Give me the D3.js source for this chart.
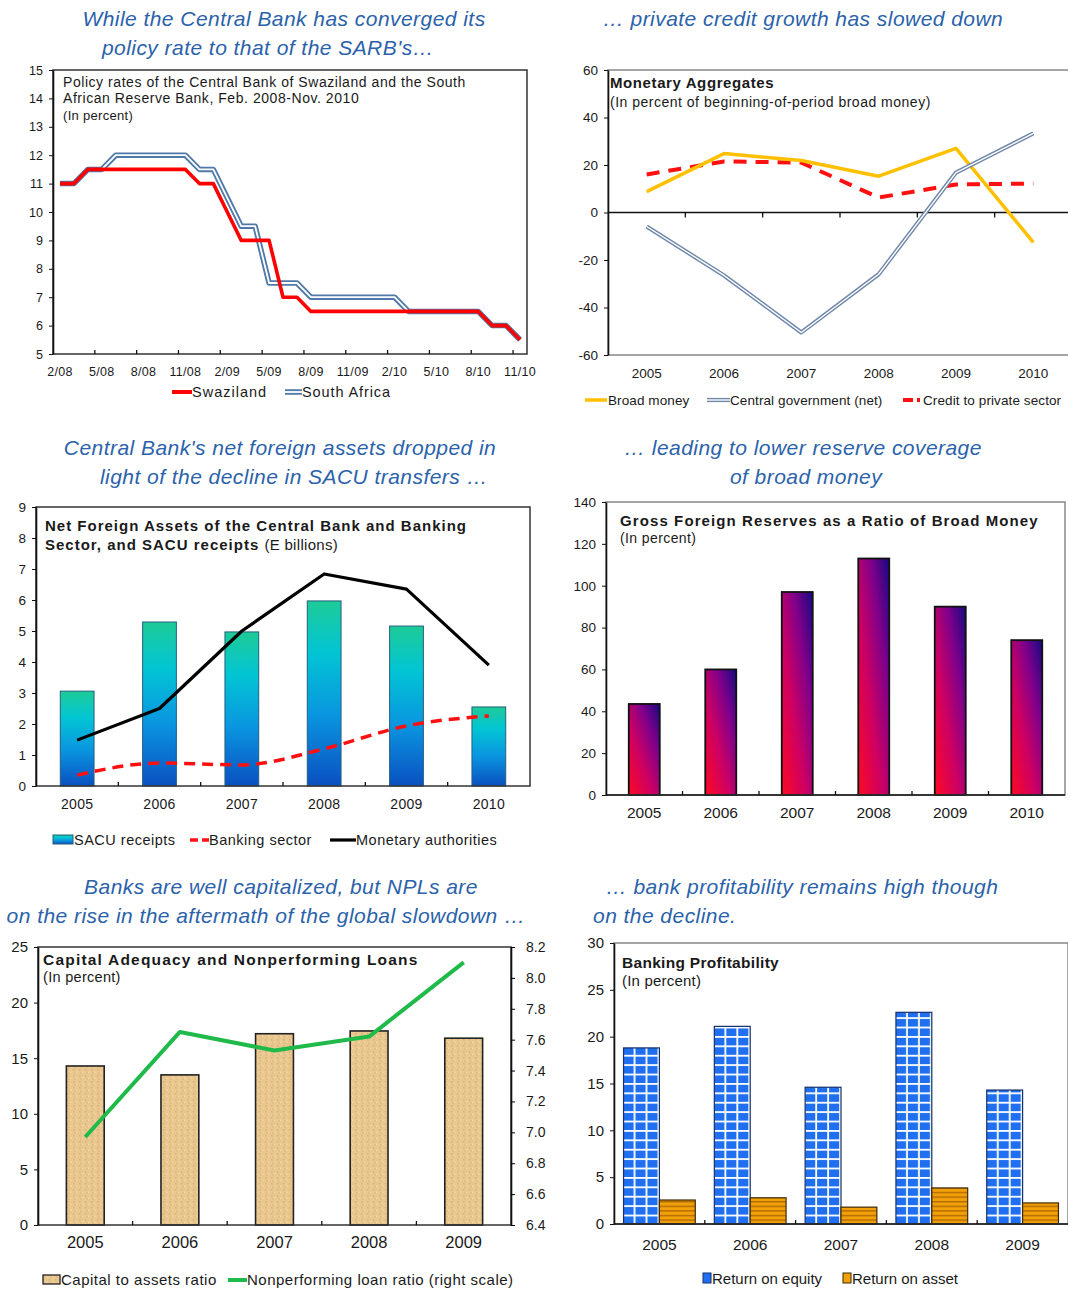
<!doctype html>
<html>
<head>
<meta charset="utf-8">
<script src="https://cdn.jsdelivr.net/npm/d3@7"></script>
<style>
  body { margin:0; background:#fff; }
  svg { display:block; font-family:"Liberation Sans", Arial, sans-serif; }
</style>
</head>
<body>
<script>
// ---- data ----
// policy rates, monthly Feb 2008 - Nov 2010
var rateTicks = ["2/08","5/08","8/08","11/08","2/09","5/09","8/09","11/09","2/10","5/10","8/10","11/10"];
var swaziland = [11,11,11.5,11.5,11.5,11.5,11.5,11.5,11.5,11.5,11,
                 11,10,9,9,9,7,7,6.5,6.5,6.5,6.5,6.5,
                 6.5,6.5,6.5,6.5,6.5,6.5,6.5,6.5,6,6,5.5];
var southAfrica = [11,11,11.5,11.5,12,12,12,12,12,12,11.5,
                   11.5,10.5,9.5,9.5,7.5,7.5,7.5,7,7,7,7,7,
                   7,7,6.5,6.5,6.5,6.5,6.5,6.5,6,6,5.5];

var years6 = ["2005","2006","2007","2008","2009","2010"];
var broadMoney = [8.8,24.8,21.9,15.3,27,-12.6];
var centralGov = [-5.9,-26.5,-50.5,-26,16.8,33.3];
var creditPrivate = [16,21.5,21,6.3,11.8,12.2];

var sacuReceipts = [3.06,5.29,4.97,5.97,5.16,2.55];
var bankingSector = [0.35,0.74,0.68,1.2,1.94,2.26];
var monetaryAuth = [1.48,2.5,5.0,6.84,6.35,3.9];

var reserveRatio = [43.5,60,97,113,90,74];

var years5 = ["2005","2006","2007","2008","2009"];
var capitalAssets = [14.3,13.5,17.2,17.45,16.8];
var nplRatio = [6.97,7.65,7.53,7.62,8.1];

var roe = [18.8,21.1,14.6,22.6,14.3];
var roa = [2.56,2.8,1.8,3.85,2.25];

// ---- setup ----
var W = 1068, H = 1291;
var FONT = "Liberation Sans, Arial, sans-serif";
var INK = "#1a1a1a";
var svg = d3.select("body").append("svg").attr("width",W).attr("height",H);
var defs = svg.append("defs");

function grad(id, x1, y1, x2, y2, stops) {
    var g = defs.append("linearGradient").attr("id",id)
        .attr("x1",x1).attr("y1",y1).attr("x2",x2).attr("y2",y2);
    stops.forEach(function(s) { g.append("stop").attr("offset",s[0]).attr("stop-color",s[1]); });
}
grad("gSacu",0,0,0,1,[["0%","#1dcb97"],["28%","#02c5d4"],["62%","#0a95e0"],["100%","#0a50c0"]]);
grad("gRes",0,1,1,0,[["0%","#ff0a22"],["40%","#cc0064"],["70%","#80008a"],["100%","#160a82"]]);

// tan speckle for capital bars
var pt = defs.append("pattern").attr("id","pTan").attr("patternUnits","userSpaceOnUse")
    .attr("width",6).attr("height",6);
pt.append("rect").attr("width",6).attr("height",6).attr("fill","#e9c78f");
pt.append("rect").attr("x",1).attr("y",1).attr("width",1.5).attr("height",1.5).attr("fill","#d8b07a");
pt.append("rect").attr("x",4).attr("y",3.5).attr("width",1.5).attr("height",1.5).attr("fill","#f3d8aa");
pt.append("rect").attr("x",2.5).attr("y",4.5).attr("width",1).attr("height",1).attr("fill","#d4aa72");

function txt(g, x, y, s, size, o) {
    o = o || {};
    var t = g.append("text").attr("x",x).attr("y",y).attr("font-size",size)
        .attr("fill",o.fill || INK).text(s);
    if (o.anchor) t.attr("text-anchor",o.anchor);
    if (o.weight) t.attr("font-weight",o.weight);
    if (o.ls) t.attr("letter-spacing",o.ls);
    if (o.italic) t.attr("font-style","italic");
    return t;
}
function headline(lines) {
    lines.forEach(function(l) {
        txt(svg,l[0],l[1],l[2],21,{anchor:l[3] || "middle",italic:true,fill:"#2b62aa",ls:0.45});
    });
}
function frame(g, b, col) {
    g.append("rect").attr("x",b.l).attr("y",b.t).attr("width",b.r-b.l).attr("height",b.b-b.t)
        .attr("fill","none").attr("stroke",col || "#333").attr("stroke-width",1.5);
}
function leftAxis(g, y, x0, ticks, size, fmt) {
    var a = g.append("g").attr("transform","translate("+x0+",0)")
        .call(d3.axisLeft(y).tickValues(ticks).tickSize(4).tickSizeOuter(0).tickPadding(6)
            .tickFormat(fmt || function(d) { return String(d); }));
    a.attr("font-size",size).attr("font-family",FONT);
    a.select(".domain").attr("stroke","#111").attr("stroke-width",1.6);
    a.selectAll(".tick line").attr("stroke","#111");
    a.selectAll(".tick text").attr("fill",INK);
    return a;
}
function xLabels(g, cats, cx, y, size, ls) {
    g.selectAll(null).data(cats).enter().append("text")
        .attr("x",function(d) { return cx(d); }).attr("y",y)
        .attr("text-anchor","middle").attr("font-size",size).attr("fill",INK)
        .attr("letter-spacing",ls || 0)
        .text(function(d) { return d; });
}
function catTicks(g, xs, y0, len) {
    g.selectAll(null).data(xs).enter().append("line")
        .attr("x1",function(d) { return d; }).attr("x2",function(d) { return d; })
        .attr("y1",y0).attr("y2",y0+len).attr("stroke","#111").attr("stroke-width",1.3);
}
function doubleLine(g, d, col, w) {
    g.append("path").attr("d",d).attr("fill","none").attr("stroke",col).attr("stroke-width",w)
        .attr("stroke-linejoin","round");
    g.append("path").attr("d",d).attr("fill","none").attr("stroke","#fff").attr("stroke-width",w*0.33)
        .attr("stroke-linejoin","round");
}

// ================= panel 1: policy rates =================
(function() {
    var g = svg.append("g");
    var b = {l:53, r:527, t:70, b:354};
    headline([[284,26,"While the Central Bank has converged its"],[268,55,"policy rate to that of the SARB's…"]]);
    var x = d3.scalePoint().domain(d3.range(swaziland.length)).range([b.l,b.r]).padding(0.5);
    var y = d3.scaleLinear().domain([5,15]).range([b.b,b.t]);
    frame(g,b);
    leftAxis(g,y,b.l,d3.range(5,16),12.5);
    var step = x.step();
    catTicks(g,d3.range(1,12).map(function(k) { return b.l + 3*k*step; }),b.b,-4);
    g.selectAll(null).data(rateTicks).enter().append("text")
        .attr("x",function(d,i) { return x(i*3); }).attr("y",376)
        .attr("text-anchor","middle").attr("font-size",12.5).attr("fill",INK).attr("letter-spacing",0.3)
        .text(function(d) { return d; });
    var line = d3.line().x(function(d,i) { return x(i); }).y(function(d) { return y(d); });
    doubleLine(g,line(southAfrica),"#4f79a8",5.5);
    g.append("path").attr("d",line(swaziland)).attr("fill","none").attr("stroke","#ff0000")
        .attr("stroke-width",3.6).attr("stroke-linejoin","round");
    txt(g,63,87,"Policy rates of the Central Bank of Swaziland and the South",14,{ls:0.55});
    txt(g,63,103,"African Reserve Bank, Feb. 2008-Nov. 2010",14,{ls:0.55});
    txt(g,63,120,"(In percent)",13,{ls:0.3});
    // legend
    g.append("line").attr("x1",172).attr("x2",192).attr("y1",392).attr("y2",392)
        .attr("stroke","#ff0000").attr("stroke-width",4);
    txt(g,192,397,"Swaziland",14.5,{ls:1.0});
    doubleLine(g,"M285,392H302","#4f79a8",5.5);
    txt(g,302,397,"South Africa",14.5,{ls:0.9});
})();

// ================= panel 2: monetary aggregates =================
(function() {
    var g = svg.append("g");
    var b = {l:608, r:1072, t:70, b:355};
    headline([[803,26,"… private credit growth has slowed down"]]);
    var x = d3.scaleBand().domain(years6).range([b.l,b.r]);
    var cx = function(d) { return x(d) + x.bandwidth()/2; };
    var y = d3.scaleLinear().domain([-60,60]).range([b.b,b.t]);
    frame(g,b,"#888");
    leftAxis(g,y,b.l,d3.range(-60,61,20),13.5);
    g.append("line").attr("x1",b.l).attr("x2",b.r).attr("y1",y(0)).attr("y2",y(0))
        .attr("stroke","#111").attr("stroke-width",1.5);
    catTicks(g,years6.slice(1).map(function(d) { return x(d); }),y(0),5);
    xLabels(g,years6,cx,378,13.5);
    var line = d3.line().x(function(d,i) { return cx(years6[i]); }).y(function(d) { return y(d); });
    g.append("path").attr("d",line(creditPrivate)).attr("fill","none").attr("stroke","#ff1010")
        .attr("stroke-width",4).attr("stroke-dasharray","13,9");
    g.append("path").attr("d",line(broadMoney)).attr("fill","none").attr("stroke","#ffc000")
        .attr("stroke-width",3.5).attr("stroke-linejoin","round");
    doubleLine(g,line(centralGov),"#6f87a8",4.2);
    txt(g,610,88,"Monetary Aggregates",15,{weight:"bold",ls:0.6});
    txt(g,610,107,"(In percent of beginning-of-period broad money)",14,{ls:0.5});
    // legend
    g.append("line").attr("x1",585).attr("x2",607).attr("y1",400).attr("y2",400)
        .attr("stroke","#ffc000").attr("stroke-width",3.5);
    txt(g,608,405,"Broad money",13.5,{ls:0.1});
    doubleLine(g,"M707,400H730","#6f87a8",4.2);
    txt(g,730,405,"Central government (net)",13.5,{ls:0.1});
    g.append("line").attr("x1",903).attr("x2",920).attr("y1",400).attr("y2",400)
        .attr("stroke","#ff1010").attr("stroke-width",4).attr("stroke-dasharray","10,4");
    txt(g,923,405,"Credit to private sector",13.5,{ls:0.1});
})();

// ================= panel 3: net foreign assets =================
(function() {
    var g = svg.append("g");
    var b = {l:36, r:530, t:507, b:786};
    headline([[280,455,"Central Bank's net foreign assets dropped in"],[294,484,"light of the decline in SACU transfers …"]]);
    var x = d3.scaleBand().domain(years6).range([b.l,b.r]).paddingInner(0.59).paddingOuter(0.295);
    var cx = function(d) { return x(d) + x.bandwidth()/2; };
    var y = d3.scaleLinear().domain([0,9]).range([b.b,b.t]);
    g.selectAll(null).data(sacuReceipts).enter().append("rect")
        .attr("x",function(d,i) { return x(years6[i]); }).attr("width",x.bandwidth())
        .attr("y",function(d) { return y(d); }).attr("height",function(d) { return y(0) - y(d); })
        .attr("fill","url(#gSacu)").attr("stroke","#245f80").attr("stroke-width",1);
    frame(g,b);
    leftAxis(g,y,b.l,d3.range(0,10),13.5);
    var step = x.step();
    catTicks(g,d3.range(1,6).map(function(k) { return b.l + k*step; }),b.b,-4);
    xLabels(g,years6,cx,809,14,0.3);
    var line = d3.line().x(function(d,i) { return cx(years6[i]); }).y(function(d) { return y(d); });
    g.append("path").attr("d",line.curve(d3.curveMonotoneX)(bankingSector)).attr("fill","none")
        .attr("stroke","#ff1010").attr("stroke-width",3.5).attr("stroke-dasharray","11,7");
    g.append("path").attr("d",line.curve(d3.curveLinear)(monetaryAuth)).attr("fill","none")
        .attr("stroke","#000").attr("stroke-width",3.2).attr("stroke-linejoin","round");
    txt(g,45,531,"Net Foreign Assets of the Central Bank and Banking",15,{weight:"bold",ls:1.0});
    var t = txt(g,45,550,"Sector, and SACU receipts ",15,{weight:"bold",ls:1.0});
    t.append("tspan").attr("font-weight","normal").attr("letter-spacing",0.3).text("(E billions)");
    // legend
    g.append("rect").attr("x",53).attr("y",835).attr("width",20).attr("height",9)
        .attr("fill","url(#gSacu)").attr("stroke","#245f80");
    txt(g,74,845,"SACU receipts",14.5,{ls:0.5});
    g.append("line").attr("x1",190).attr("x2",209).attr("y1",840).attr("y2",840)
        .attr("stroke","#ff1010").attr("stroke-width",3.5).attr("stroke-dasharray","8,4");
    txt(g,209,845,"Banking sector",14.5,{ls:0.5});
    g.append("line").attr("x1",330).attr("x2",356).attr("y1",840).attr("y2",840)
        .attr("stroke","#000").attr("stroke-width",3.2);
    txt(g,356,845,"Monetary authorities",14.5,{ls:0.5});
})();

// ================= panel 4: reserves to broad money =================
(function() {
    var g = svg.append("g");
    var b = {l:606, r:1065, t:502, b:795};
    headline([[803,455,"… leading to lower reserve coverage"],[806,484,"of broad money"]]);
    var x = d3.scaleBand().domain(years6).range([b.l,b.r]).paddingInner(0.595).paddingOuter(0.2975);
    var cx = function(d) { return x(d) + x.bandwidth()/2; };
    var y = d3.scaleLinear().domain([0,140]).range([b.b,b.t]);
    g.selectAll(null).data(reserveRatio).enter().append("rect")
        .attr("x",function(d,i) { return x(years6[i]); }).attr("width",x.bandwidth())
        .attr("y",function(d) { return y(d); }).attr("height",function(d) { return y(0) - y(d); })
        .attr("fill","url(#gRes)").attr("stroke","#111").attr("stroke-width",1.8);
    frame(g,b,"#888");
    leftAxis(g,y,b.l,d3.range(0,141,20),13.5);
    g.append("line").attr("x1",b.l).attr("x2",b.r).attr("y1",b.b).attr("y2",b.b)
        .attr("stroke","#111").attr("stroke-width",1.6);
    var step = x.step();
    catTicks(g,d3.range(1,6).map(function(k) { return b.l + k*step; }),b.b,-4);
    xLabels(g,years6,cx,818,15.5);
    txt(g,620,526,"Gross Foreign Reserves as a Ratio of Broad Money",15,{weight:"bold",ls:1.1});
    txt(g,620,543,"(In percent)",14,{ls:0.4});
})();

// ================= panel 5: capital adequacy & NPL =================
(function() {
    var g = svg.append("g");
    var b = {l:38, r:511, t:947, b:1225};
    headline([[281,894,"Banks are well capitalized, but NPLs are"],[266,923,"on the rise in the aftermath of the global slowdown …"]]);
    var x = d3.scaleBand().domain(years5).range([b.l,b.r]).paddingInner(0.6).paddingOuter(0.3);
    var cx = function(d) { return x(d) + x.bandwidth()/2; };
    var y = d3.scaleLinear().domain([0,25]).range([b.b,b.t]);
    var y2 = d3.scaleLinear().domain([6.4,8.2]).range([b.b,b.t]);
    g.selectAll(null).data(capitalAssets).enter().append("rect")
        .attr("x",function(d,i) { return x(years5[i]); }).attr("width",x.bandwidth())
        .attr("y",function(d) { return y(d); }).attr("height",function(d) { return y(0) - y(d); })
        .attr("fill","url(#pTan)").attr("stroke","#222").attr("stroke-width",1.6);
    frame(g,b);
    leftAxis(g,y,b.l,d3.range(0,26,5),15);
    var r = g.append("g").attr("transform","translate("+b.r+",0)")
        .call(d3.axisRight(y2).tickValues(d3.range(10).map(function(i) { return 6.4 + i*0.2; }))
            .tickSize(4).tickSizeOuter(0).tickPadding(11).tickFormat(d3.format(".1f")));
    r.attr("font-size",14).attr("font-family",FONT);
    r.select(".domain").attr("stroke","#111").attr("stroke-width",1.6);
    r.selectAll(".tick text").attr("fill",INK);
    var step = x.step();
    catTicks(g,d3.range(1,5).map(function(k) { return b.l + k*step; }),b.b,-4);
    xLabels(g,years5,cx,1248,16.5);
    var line = d3.line().x(function(d,i) { return cx(years5[i]); }).y(function(d) { return y2(d); });
    g.append("path").attr("d",line(nplRatio)).attr("fill","none").attr("stroke","#1fba4a")
        .attr("stroke-width",4).attr("stroke-linejoin","round");
    txt(g,43,965,"Capital Adequacy and Nonperforming Loans",15.5,{weight:"bold",ls:1.2});
    txt(g,43,982,"(In percent)",14.5,{ls:0.3});
    // legend
    g.append("rect").attr("x",43).attr("y",1275).attr("width",17).attr("height",9)
        .attr("fill","url(#pTan)").attr("stroke","#222").attr("stroke-width",1.3);
    txt(g,61,1285,"Capital to assets ratio",15,{ls:0.5});
    g.append("line").attr("x1",228).attr("x2",247).attr("y1",1280).attr("y2",1280)
        .attr("stroke","#1fba4a").attr("stroke-width",4);
    txt(g,247,1285,"Nonperforming loan ratio (right scale)",15,{ls:0.5});
})();

// ================= panel 6: banking profitability =================
(function() {
    var g = svg.append("g");
    var b = {l:614, r:1068, t:943, b:1224};
    headline([[802,894,"… bank profitability remains high though"],[593,923,"on the decline.","start"]]);
    var x = d3.scaleBand().domain(years5).range([b.l,b.r]).paddingInner(0.21).paddingOuter(0.105);
    var cx = function(d) { return x(d) + x.bandwidth()/2; };
    var xs = d3.scaleBand().domain(["roe","roa"]).range([0,x.bandwidth()]);
    var y = d3.scaleLinear().domain([0,30]).range([b.b,b.t]);
    var bw = xs.bandwidth();
    // per-bar patterns so grid lines line up with each bar
    years5.forEach(function(yr,i) {
        var x0 = x(yr);
        var p = defs.append("pattern").attr("id","pRoe"+i).attr("patternUnits","userSpaceOnUse")
            .attr("width",bw/3).attr("height",9.4)
            .attr("patternTransform","translate("+x0+","+b.b+")");
        p.append("rect").attr("width",bw/3).attr("height",9.4).attr("fill","#1f6ff0");
        p.append("rect").attr("x",bw/3-1.8).attr("width",1.8).attr("height",9.4).attr("fill","#fff");
        p.append("rect").attr("y",0).attr("width",bw/3).attr("height",1.8).attr("fill","#fff");
        var q = defs.append("pattern").attr("id","pRoa"+i).attr("patternUnits","userSpaceOnUse")
            .attr("width",8).attr("height",4.6)
            .attr("patternTransform","translate(0,"+b.b+")");
        q.append("rect").attr("width",8).attr("height",4.6).attr("fill","#f2a008");
        q.append("rect").attr("y",0).attr("width",8).attr("height",1.4).attr("fill","#b26a06");
    });
    g.selectAll(null).data(roe).enter().append("rect")
        .attr("x",function(d,i) { return x(years5[i]) + xs("roe"); }).attr("width",bw)
        .attr("y",function(d) { return y(d); }).attr("height",function(d) { return y(0) - y(d); })
        .attr("fill",function(d,i) { return "url(#pRoe"+i+")"; })
        .attr("stroke","#14306a").attr("stroke-width",1.2);
    g.selectAll(null).data(roa).enter().append("rect")
        .attr("x",function(d,i) { return x(years5[i]) + xs("roa"); }).attr("width",bw)
        .attr("y",function(d) { return y(d); }).attr("height",function(d) { return y(0) - y(d); })
        .attr("fill",function(d,i) { return "url(#pRoa"+i+")"; })
        .attr("stroke","#3d2a06").attr("stroke-width",1.2);
    frame(g,b,"#888");
    leftAxis(g,y,b.l,d3.range(0,31,5),15);
    g.append("line").attr("x1",b.l).attr("x2",b.r).attr("y1",b.b).attr("y2",b.b)
        .attr("stroke","#111").attr("stroke-width",1.6);
    var step = x.step();
    catTicks(g,d3.range(1,5).map(function(k) { return b.l + k*step; }),b.b,-4);
    xLabels(g,years5,cx,1250,15.5);
    txt(g,622,968,"Banking Profitability",15.5,{weight:"bold",ls:0.3});
    txt(g,622,986,"(In percent)",15,{ls:0.2});
    // legend
    g.append("rect").attr("x",703).attr("y",1273).attr("width",8).attr("height",10)
        .attr("fill","#1f6ff0").attr("stroke","#14306a");
    txt(g,712,1284,"Return on equity",15);
    g.append("rect").attr("x",843).attr("y",1273).attr("width",8).attr("height",10)
        .attr("fill","#f2a008").attr("stroke","#3d2a06");
    txt(g,852,1284,"Return on asset",15);
})();
</script>
</body>
</html>
